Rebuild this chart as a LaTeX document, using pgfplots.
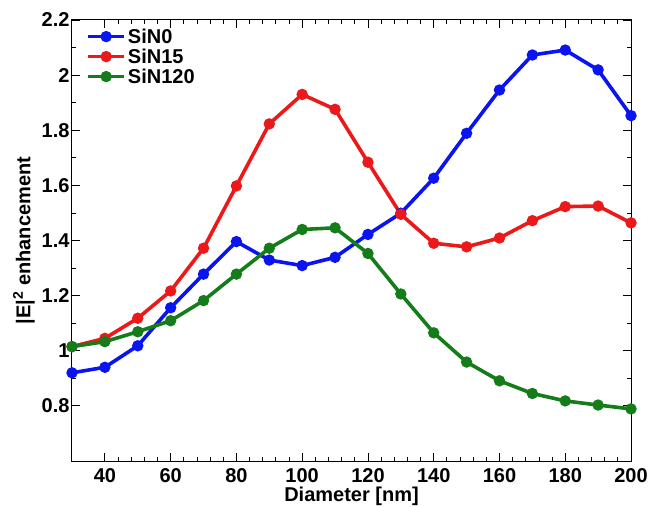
\documentclass[border=0pt]{standalone}
\usepackage{pgfplots}
\pgfplotsset{compat=1.18}
\usepackage{fontspec}
\setmainfont{Liberation Sans}
\definecolor{mblue}{RGB}{10,20,240}
\definecolor{mred}{RGB}{235,25,25}
\definecolor{mgreen}{RGB}{20,125,25}
\begin{document}
\begin{tikzpicture}
\begin{axis}[
  name=ax,
  scale only axis,
  width=559pt, height=441pt,
  xmin=30, xmax=200, ymin=0.6, ymax=2.2,
  xtick={40,60,...,200},
  ytick={0.8,1,...,2.2},
  minor x tick num=4,
  minor y tick num=1,
  tick align=inside,
  major tick length=8pt,
  minor tick length=4pt,
  every tick/.style={black, line width=0.8pt},
  axis line style={line width=1pt},
  font=\fontsize{20}{24}\selectfont\bfseries,
  /pgf/number format/assume math mode=true,
  xticklabel style={yshift=-4pt},
  yticklabel style={xshift=1pt, /pgf/number format/fixed, /pgf/number format/precision=1},
  xlabel={Diameter [nm]},
  ylabel={|E|\textsuperscript{2} enhancement},
  every axis x label/.style={at={(axis description cs:0.5,-0.081)}, anchor=center},
  every axis y label/.style={at={(axis description cs:-0.086,0.5)}, rotate=90, anchor=center},
  legend style={at={(axis description cs:0.02,0.99)}, anchor=north west, draw=none, fill=none,
    row sep=0pt, font=\fontsize{20}{24}\selectfont\bfseries},
  legend cell align=left,
  legend image code/.code={\draw[mark repeat=2, mark phase=2] plot coordinates {(0pt,0pt) (18pt,0pt) (36pt,0pt)};},
  every axis plot/.append style={line width=3.6pt, mark=*, mark size=3.8pt},
]
\addplot[mblue, mark options={fill=mblue}] coordinates {
 (30,0.920) (40,0.940) (50,1.018) (60,1.156) (70,1.278) (80,1.396) (90,1.329)
 (100,1.309) (110,1.339) (120,1.422) (130,1.499) (140,1.626) (150,1.789)
 (160,1.946) (170,2.073) (180,2.091) (190,2.019) (200,1.853)};
\addlegendentry{SiN0}
\addplot[mred, mark options={fill=mred}] coordinates {
 (30,1.015) (40,1.045) (50,1.118) (60,1.217) (70,1.372) (80,1.598) (90,1.823)
 (100,1.930) (110,1.876) (120,1.684) (130,1.495) (140,1.390) (150,1.377)
 (160,1.409) (170,1.472) (180,1.523) (190,1.525) (200,1.464)};
\addlegendentry{SiN15}
\addplot[mgreen, mark options={fill=mgreen}] coordinates {
 (30,1.015) (40,1.033) (50,1.069) (60,1.109) (70,1.182) (80,1.278) (90,1.372)
 (100,1.440) (110,1.446) (120,1.353) (130,1.206) (140,1.065) (150,0.959)
 (160,0.891) (170,0.845) (180,0.818) (190,0.803) (200,0.789)};
\addlegendentry{SiN120}
\end{axis}
\pgfresetboundingbox
\path ([xshift=-72pt,yshift=-45pt]ax.south west) rectangle ([xshift=18pt,yshift=20pt]ax.north east);
\end{tikzpicture}
\end{document}
